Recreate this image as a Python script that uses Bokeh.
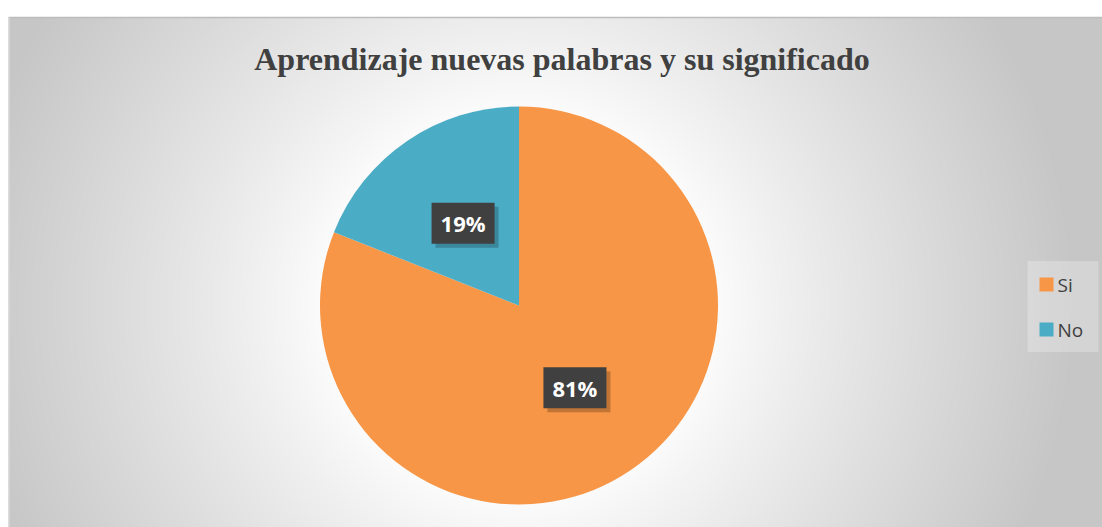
import numpy as np
from bokeh.plotting import figure
from bokeh.models import ColumnDataSource, Range1d
from bokeh.core.properties import value
from bokeh.embed import file_html
from bokeh.resources import INLINE

# ---- data ----
title = "Aprendizaje nuevas palabras y su significado"
categories = ["Si", "No"]
values = [81, 19]
colors = ["#F79646", "#4BACC6"]

W, H = 1102, 527
p = figure(width=W, height=H, output_backend="svg", toolbar_location=None,
           x_range=Range1d(0, W), y_range=Range1d(0, H), min_border=0,
           background_fill_color="white", border_fill_color="white",
           outline_line_color=None)
p.axis.visible = False
p.grid.visible = False

# ---- background radial gradient (chart area) ----
X0, BG_W, BG_H = 8, W - 8, 510
cx_bg, cy_bg = 518, 222
xs = X0 + np.arange(BG_W) + 0.5
ys = np.arange(BG_H) + 0.5
X, Y = np.meshgrid(xs, ys)
d = np.sqrt((X - cx_bg) ** 2 + (Y - cy_bg) ** 2)
t = np.clip((d - 180.0) / 380.0, 0, 1)
g = np.clip(255 - 57 * t ** 0.9, 0, 255).astype(np.uint32)
rgba = (255 << 24) | (g << 16) | (g << 8) | g
p.image_rgba(image=[rgba.astype(np.uint32)], x=X0, y=0, dw=BG_W, dh=BG_H)
p.segment(x0=X0, y0=BG_H, x1=W, y1=BG_H, line_color="#bdbdbd", line_width=1.5)
p.segment(x0=X0 + 0.5, y0=0, x1=X0 + 0.5, y1=BG_H, line_color="#d9d9d9", line_width=1.5)

# ---- pie ----
cx, cy, R = 518.5, 222, 199
total = float(sum(values))
fr = np.array(values) / total
ends = np.cumsum(fr)
starts = ends - fr
start_ang = np.pi / 2 - 2 * np.pi * starts
end_ang = np.pi / 2 - 2 * np.pi * ends
mid_ang = (start_ang + end_ang) / 2
src = ColumnDataSource(dict(start=start_ang, end=end_ang, color=colors,
                            cat=categories))
p.wedge(x=cx, y=cy, radius=R, start_angle="start", end_angle="end",
        direction="clock", fill_color="color", line_color=None, source=src)

# ---- data labels ----
lr = 0.5 * R
lx = cx + lr * np.cos(mid_ang)
ly = cy + lr * np.sin(mid_ang)
labels = ["%d%%" % v for v in values]
lsrc = ColumnDataSource(dict(x=lx, y=ly, sx=lx + 4, sy=ly - 4, t=labels))
p.rect(x="sx", y="sy", width=63, height=41, fill_color="black", fill_alpha=0.22,
       line_color=None, source=lsrc)
p.rect(x="x", y="y", width=63, height=41, fill_color="#404040",
       line_color=None, source=lsrc)
p.text(x="x", y="y", text="t", text_color="white", text_font=value("Open Sans"),
       text_font_style="bold", text_font_size="22px", text_align="center",
       text_baseline="middle", source=lsrc)

# ---- title ----
p.text(x=[561.5], y=[469], text=[title], text_color="#404040",
       text_font=value("Liberation Serif"), text_font_style="bold",
       text_font_size="32px", text_align="center", text_baseline="middle")

# ---- legend ----
p.rect(x=[1062.5], y=[221], width=71, height=91, fill_color="white", fill_alpha=0.25,
       line_color=None)
leg_y = np.array([243.0, 198.0])
legsrc = ColumnDataSource(dict(y=leg_y, c=colors, t=categories))
p.rect(x=1046, y="y", width=14, height=14, fill_color="c", line_color=None,
       source=legsrc)
p.text(x=1057, y="y", text="t", text_color="#404040", text_font=value("Open Sans"),
       text_font_size="19px", text_baseline="middle", source=legsrc)

open("out.html", "w").write(file_html(p, INLINE))
